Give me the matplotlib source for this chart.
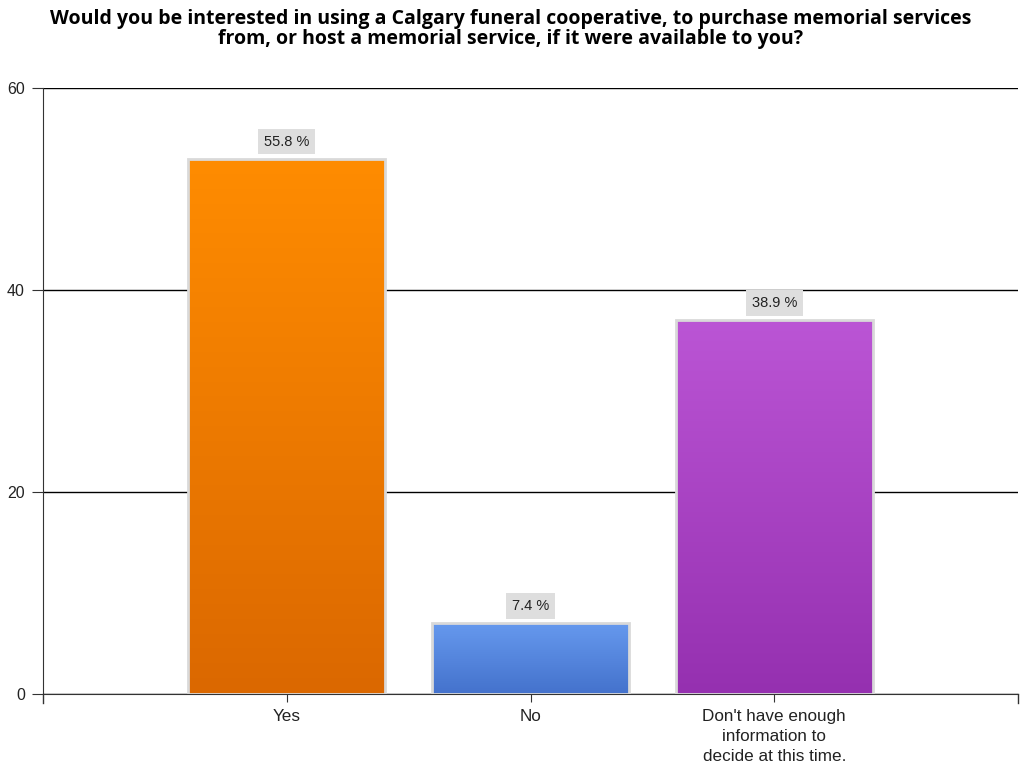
import numpy as np
import matplotlib
matplotlib.use("Agg")
from matplotlib import pyplot as plt
from matplotlib.colors import LinearSegmentedColormap

plt.rcParams['font.family'] = ['Liberation Sans', 'DejaVu Sans']

# Data
categories = ["Yes", "No", "Don't have enough\ninformation to\ndecide at this time."]
counts = [53, 7, 37]
pct_labels = ["55.8 %", "7.4 %", "38.9 %"]
top_colors = ["#ff8c00", "#6699ee", "#bb55d5"]
bottom_colors = ["#db6800", "#4472cc", "#9530b0"]

fig = plt.figure(figsize=(10.21, 7.68), dpi=100)
ax = fig.add_axes([43/1021, 1 - 694/768, (1018-43)/1021, (694-88)/768])

x = np.arange(len(categories))
bars = ax.bar(x, counts, width=0.81, edgecolor="#d9d9d9", linewidth=2, zorder=3)

grad = np.linspace(0, 1, 256).reshape(-1, 1)
for b, c1, c2 in zip(bars, top_colors, bottom_colors):
    cmap = LinearSegmentedColormap.from_list("g", [c2, c1])
    x0, y0 = b.get_x(), b.get_y()
    w, h = b.get_width(), b.get_height()
    im = ax.imshow(grad, cmap=cmap, aspect="auto", origin="lower",
                   extent=[x0, x0 + w, y0, y0 + h], zorder=2)
    im.set_clip_path(b)
    b.set_facecolor("none")

for xi, v, lab in zip(x, counts, pct_labels):
    ax.text(xi, v + 1.7, lab, ha="center", va="center", fontsize=10.5, color="#222222",
            bbox=dict(boxstyle="square,pad=0.4", facecolor="#dedede", edgecolor="none"),
            zorder=4)

ax.set_xlim(-1, 3)
ax.set_ylim(0, 60)
ax.set_yticks([0, 20, 40, 60])
ax.set_xticks(x)
ax.set_xticklabels(categories, fontsize=12.3, color="#222222", linespacing=1.4)
ax.tick_params(axis="y", labelsize=11.5, labelcolor="#222222", length=8, pad=5, color="#333333")
ax.tick_params(axis="x", length=6, pad=5, color="#333333")
ax.yaxis.grid(True, color="black", linewidth=1, zorder=0)
ax.set_axisbelow(True)
for s in ["top", "right"]:
    ax.spines[s].set_visible(False)
ax.spines["left"].set_color("#333333")
ax.spines["bottom"].set_color("#333333")

# end ticks on x axis
for xe in [-1, 3]:
    ax.plot([xe, xe], [0, -0.9], color="#333333", linewidth=1, clip_on=False)

fig.text(0.5, 1 - 29/768,
         "Would you be interested in using a Calgary funeral cooperative, to purchase memorial services\nfrom, or host a memorial service, if it were available to you?",
         ha="center", va="center", fontsize=14, fontweight="bold", linespacing=1.05,
         family=["Open Sans", "DejaVu Sans"])

fig.savefig("out.png", dpi=100)
